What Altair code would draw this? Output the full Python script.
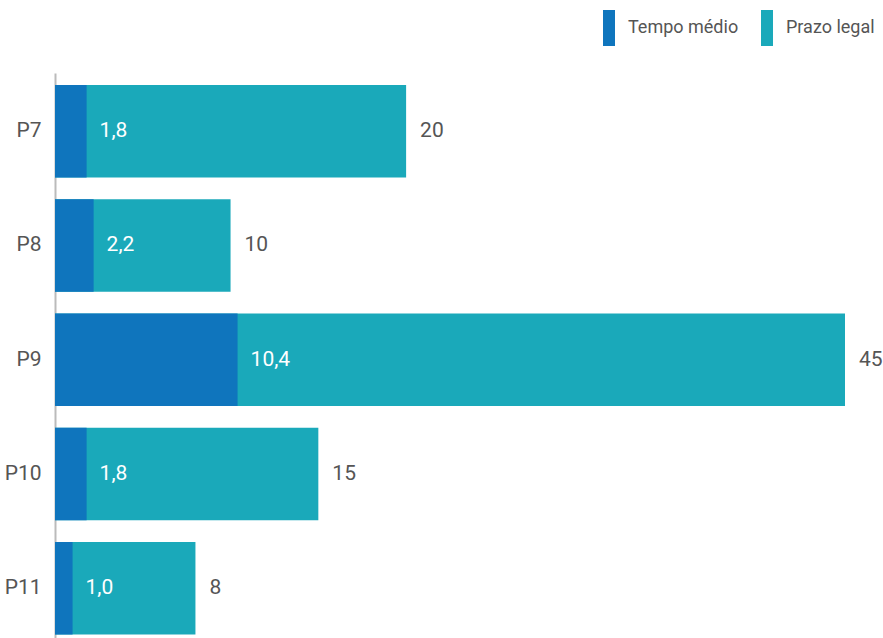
import altair as alt
import pandas as pd

categorias = ["P7", "P8", "P9", "P10", "P11"]
tempo_medio = [1.8, 2.2, 10.4, 1.8, 1.0]
prazo_legal = [20, 10, 45, 15, 8]
series = ["Tempo médio", "Prazo legal"]
cores = ["#0f75bd", "#1aa9ba"]

FONT = "Roboto, sans-serif"
GREY = "#555555"

rows = []
for c, t, p in zip(categorias, tempo_medio, prazo_legal):
    rows.append({"cat": c, "serie": "Tempo médio", "valor": t,
                 "rotulo": f"{t:.1f}".replace(".", ",")})
    rows.append({"cat": c, "serie": "Prazo legal", "valor": p,
                 "rotulo": f"{p:g}"})
df = pd.DataFrame(rows)

y = alt.Y("cat:N", sort=categorias, title=None,
          scale=alt.Scale(paddingInner=0.19, paddingOuter=0.068, align=0.77),
          axis=alt.Axis(ticks=False, domainColor="#bbbbbb", domainWidth=2,
                        labelFont=FONT, labelFontSize=21, labelColor=GREY,
                        labelPadding=14, grid=False))
x = alt.X("valor:Q", title=None, scale=alt.Scale(domain=[0, 45], nice=False),
          axis=None)
color = alt.Color("serie:N", title=None,
                  scale=alt.Scale(domain=series, range=cores),
                  legend=alt.Legend(orient="none", direction="horizontal",
                                    legendX=536, legendY=-63,
                                    symbolType="M-0.333,-1 h0.667 v2 h-0.667 Z",
                                    symbolSize=1296, symbolStrokeWidth=0,
                                    labelFont=FONT, labelFontSize=18,
                                    labelColor=GREY, labelOffset=1,
                                    columnPadding=10, padding=0))

base = alt.Chart(df)
prazo = base.transform_filter(alt.datum.serie == "Prazo legal")
tempo = base.transform_filter(alt.datum.serie == "Tempo médio")

bar_p = prazo.mark_bar(opacity=1).encode(y=y, x=x, color=color)
bar_t = tempo.mark_bar(opacity=1).encode(y=y, x=x, color=color)
txt_p = prazo.mark_text(align="left", baseline="middle", dx=14, font=FONT,
                        fontSize=21, color=GREY).encode(y=y, x=x, text="rotulo:N")
txt_t = tempo.mark_text(align="left", baseline="middle", dx=13, font=FONT,
                        fontSize=21, color="white").encode(y=y, x=x, text="rotulo:N")

chart = alt.layer(bar_p, bar_t, txt_p, txt_t).properties(
    width=790, height=565,
    autosize=alt.AutoSizeParams(type="none"),
    padding={"left": 55, "top": 73, "right": 38, "bottom": 0},
).configure_view(stroke=None)

chart.save("out.html", embed_options={"renderer": "svg", "actions": False})
